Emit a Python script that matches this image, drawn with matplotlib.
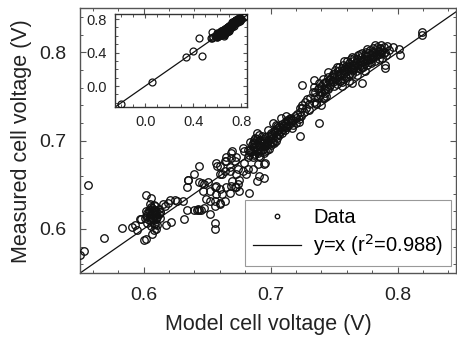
import numpy as np
import matplotlib.pyplot as plt
from matplotlib.ticker import MultipleLocator

plt.rcParams['font.family'] = ['Liberation Sans', 'DejaVu Sans']

# model vs measured cell voltage (V)
# points only seen in the inset (outside main range)
far_model = [-0.20, 0.06, 0.34, 0.40, 0.47, 0.45, 0.55]
far_meas = [-0.21, 0.05, 0.35, 0.42, 0.36, 0.57, 0.57]

# low end, 0.55 - 0.62
low_model = [
    0.556, 0.553, 0.569, 0.583, 0.591, 0.595, 0.600, 0.602, 0.602, 0.606,
    0.607, 0.608, 0.613, 0.617, 0.621, 0.625, 0.631, 0.618, 0.622, 0.632,
    0.634, 0.635, 0.642, 0.644, 0.648, 0.652, 0.656, 0.656, 0.610, 0.609,
    0.598, 0.597, 0.615, 0.619, 0.626, 0.613, 0.610, 0.634, 0.593,
    0.601, 0.603, 0.604, 0.605, 0.606, 0.606, 0.607, 0.607, 0.608, 0.608,
    0.609, 0.609, 0.610, 0.610, 0.611, 0.612, 0.603, 0.605, 0.606, 0.604,
    0.611, 0.612, 0.613, 0.602, 0.607,
    0.602, 0.604, 0.605, 0.606, 0.607, 0.608, 0.609, 0.610, 0.608, 0.606,
]
low_meas = [
    0.650, 0.575, 0.590, 0.601, 0.602, 0.599, 0.587, 0.589, 0.639, 0.635,
    0.594, 0.599, 0.619, 0.626, 0.633, 0.633, 0.632, 0.605, 0.608, 0.611,
    0.648, 0.656, 0.621, 0.622, 0.624, 0.617, 0.607, 0.600, 0.600, 0.606,
    0.611, 0.611, 0.628, 0.630, 0.632, 0.619, 0.613, 0.621, 0.604,
    0.612, 0.618, 0.622, 0.615, 0.609, 0.625, 0.619, 0.613, 0.621, 0.606,
    0.616, 0.626, 0.611, 0.620, 0.614, 0.623, 0.607, 0.628, 0.603, 0.610,
    0.605, 0.617, 0.612, 0.620, 0.624,
    0.615, 0.619, 0.612, 0.621, 0.616, 0.610, 0.622, 0.617, 0.627, 0.617,
]

# middle, 0.64 - 0.73
mid_model = [
    0.644, 0.640, 0.635, 0.644, 0.648, 0.651, 0.647, 0.649, 0.652, 0.656,
    0.660, 0.657, 0.660, 0.665, 0.669, 0.672, 0.674, 0.657, 0.662, 0.668,
    0.656, 0.660, 0.664, 0.657, 0.660, 0.665, 0.668, 0.672, 0.674, 0.669,
    0.640, 0.643, 0.645, 0.646, 0.652, 0.656, 0.658, 0.664, 0.660, 0.670,
    0.669, 0.678, 0.681, 0.682, 0.673, 0.675, 0.670, 0.673, 0.675, 0.695,
    0.690, 0.679, 0.682, 0.686, 0.691, 0.695, 0.689, 0.696, 0.683, 0.665,
    0.662, 0.668, 0.673, 0.664, 0.679, 0.682, 0.678,
    0.683, 0.684, 0.685, 0.686, 0.686, 0.687, 0.688, 0.688, 0.689, 0.690,
    0.690, 0.691, 0.691, 0.692, 0.692, 0.693, 0.694, 0.694, 0.695, 0.695,
    0.696, 0.697, 0.697, 0.698, 0.699, 0.700, 0.701, 0.702, 0.703, 0.704,
    0.705, 0.706, 0.707, 0.708, 0.709, 0.710, 0.711, 0.712, 0.713, 0.714,
    0.715, 0.716, 0.717, 0.718, 0.719, 0.720, 0.721, 0.722, 0.723, 0.724,
    0.725, 0.726, 0.727, 0.728, 0.729, 0.730,
    0.689, 0.687, 0.702, 0.704, 0.708, 0.712, 0.715, 0.723, 0.738, 0.723,
    0.725, 0.730, 0.736, 0.741, 0.743, 0.684, 0.691, 0.698, 0.705, 0.700,
    0.684, 0.686, 0.687, 0.688, 0.689, 0.690, 0.691, 0.692, 0.693, 0.694,
    0.695, 0.696, 0.697, 0.698, 0.699, 0.700, 0.701, 0.702, 0.703, 0.704,
    0.705, 0.706, 0.707, 0.708, 0.709, 0.710, 0.711, 0.712, 0.713, 0.714,
    0.686, 0.688, 0.692, 0.696, 0.700, 0.704, 0.716, 0.718, 0.720, 0.722,
]
mid_meas = [
    0.671, 0.662, 0.656, 0.653, 0.651, 0.653, 0.643, 0.634, 0.632, 0.626,
    0.628, 0.649, 0.645, 0.647, 0.649, 0.647, 0.651, 0.640, 0.640, 0.641,
    0.632, 0.630, 0.632, 0.675, 0.671, 0.681, 0.670, 0.677, 0.668, 0.686,
    0.621, 0.623, 0.622, 0.652, 0.643, 0.647, 0.671, 0.666, 0.662, 0.688,
    0.680, 0.666, 0.662, 0.668, 0.662, 0.656, 0.654, 0.647, 0.643, 0.674,
    0.674, 0.675, 0.681, 0.668, 0.660, 0.658, 0.654, 0.675, 0.641, 0.677,
    0.662, 0.666, 0.681, 0.677, 0.688, 0.690, 0.692,
    0.684, 0.690, 0.695, 0.681, 0.688, 0.699, 0.693, 0.685, 0.702, 0.690,
    0.696, 0.683, 0.700, 0.688, 0.694, 0.705, 0.691, 0.697, 0.686, 0.702,
    0.694, 0.699, 0.689, 0.705, 0.696, 0.702, 0.708, 0.699, 0.711, 0.705,
    0.714, 0.708, 0.716, 0.711, 0.719, 0.713, 0.721, 0.716, 0.723, 0.718,
    0.725, 0.720, 0.714, 0.723, 0.728, 0.720, 0.730, 0.725, 0.733, 0.728,
    0.740, 0.733, 0.744, 0.737, 0.747, 0.735,
    0.709, 0.701, 0.720, 0.718, 0.726, 0.728, 0.726, 0.705, 0.720, 0.737,
    0.737, 0.741, 0.743, 0.748, 0.754, 0.698, 0.706, 0.712, 0.717, 0.709,
    0.687, 0.693, 0.684, 0.697, 0.690, 0.686, 0.695, 0.701, 0.690, 0.700,
    0.694, 0.704, 0.696, 0.701, 0.691, 0.707, 0.698, 0.704, 0.697, 0.710,
    0.703, 0.712, 0.706, 0.715, 0.709, 0.717, 0.712, 0.719, 0.715, 0.722,
    0.697, 0.703, 0.682, 0.688, 0.695, 0.700, 0.724, 0.718, 0.726, 0.721,
]

# upper band, 0.73 - 0.82
high_model = [
    0.731, 0.733, 0.735, 0.737, 0.739, 0.740, 0.742, 0.743, 0.744, 0.746,
    0.747, 0.748, 0.749, 0.750, 0.751, 0.752, 0.753, 0.754, 0.755, 0.756,
    0.757, 0.758, 0.759, 0.760, 0.761, 0.762, 0.763, 0.764, 0.765, 0.766,
    0.767, 0.768, 0.769, 0.770, 0.771, 0.772, 0.773, 0.774, 0.775, 0.776,
    0.777, 0.778, 0.779, 0.780, 0.781, 0.782, 0.783, 0.784, 0.785, 0.786,
    0.787, 0.788, 0.789, 0.790, 0.791, 0.792, 0.793,
    0.745, 0.738, 0.741, 0.758, 0.764, 0.770, 0.776, 0.782, 0.752, 0.734,
    0.736, 0.744, 0.756, 0.762, 0.768, 0.774, 0.725, 0.734, 0.734, 0.755,
    0.740, 0.764, 0.772, 0.789, 0.790, 0.790, 0.796, 0.801, 0.802, 0.819,
    0.819, 0.745, 0.750, 0.757,
    0.738, 0.740, 0.741, 0.743, 0.745, 0.746, 0.748, 0.749, 0.750, 0.751,
    0.753, 0.754, 0.755, 0.756, 0.757, 0.758, 0.759, 0.760, 0.761, 0.762,
    0.763, 0.764, 0.765, 0.766, 0.767, 0.768, 0.769, 0.770, 0.771, 0.772,
    0.773, 0.774, 0.775, 0.776, 0.777, 0.778, 0.779, 0.780, 0.781, 0.782,
    0.783, 0.784, 0.785, 0.786, 0.787, 0.752, 0.758, 0.764, 0.770, 0.776,
    0.744, 0.747, 0.735, 0.737, 0.742, 0.760, 0.766, 0.772, 0.778, 0.788,
]
high_meas = [
    0.748, 0.755, 0.750, 0.758, 0.752, 0.762, 0.757, 0.766, 0.760, 0.769,
    0.763, 0.773, 0.766, 0.776, 0.770, 0.764, 0.779, 0.773, 0.768, 0.782,
    0.776, 0.770, 0.785, 0.779, 0.773, 0.788, 0.781, 0.776, 0.790, 0.784,
    0.779, 0.793, 0.786, 0.781, 0.795, 0.789, 0.783, 0.797, 0.791, 0.786,
    0.799, 0.793, 0.788, 0.801, 0.795, 0.790, 0.803, 0.797, 0.792, 0.805,
    0.799, 0.794, 0.806, 0.801, 0.797, 0.807, 0.803,
    0.778, 0.765, 0.770, 0.790, 0.795, 0.798, 0.804, 0.808, 0.783, 0.744,
    0.742, 0.751, 0.762, 0.768, 0.774, 0.779, 0.763, 0.769, 0.761, 0.768,
    0.740, 0.765, 0.765, 0.799, 0.786, 0.782, 0.806, 0.804, 0.797, 0.823,
    0.820, 0.758, 0.772, 0.780,
    0.760, 0.755, 0.764, 0.758, 0.772, 0.761, 0.768, 0.776, 0.762, 0.780,
    0.770, 0.784, 0.776, 0.766, 0.786, 0.780, 0.772, 0.790, 0.784, 0.776,
    0.792, 0.786, 0.780, 0.794, 0.789, 0.783, 0.797, 0.791, 0.786, 0.799,
    0.793, 0.788, 0.801, 0.796, 0.791, 0.803, 0.798, 0.794, 0.805, 0.800,
    0.796, 0.806, 0.802, 0.798, 0.808, 0.774, 0.777, 0.782, 0.788, 0.793,
    0.766, 0.770, 0.755, 0.748, 0.750, 0.781, 0.786, 0.784, 0.789, 0.803,
]

model_v = far_model + low_model + mid_model + high_model
measured_v = far_meas + low_meas + mid_meas + high_meas
fit_label = 'y=x (r$^2$=0.988)'

spine_col = '#555555'
fig = plt.figure(figsize=(4.57, 3.44), dpi=100)
ax = fig.add_axes([0.175, 0.206, 0.823, 0.770])

ax.plot(model_v, measured_v, 'o', mfc='none', mec='#111111', ms=5.4, mew=0.95,
        label='Data', zorder=3)
ax.plot([0.55, 0.85], [0.55, 0.85], '-', color='#111111', lw=0.9, label=fit_label)
ax.set_xlim(0.55, 0.846)
ax.set_ylim(0.55, 0.85)
ax.xaxis.set_major_locator(MultipleLocator(0.1))
ax.xaxis.set_minor_locator(MultipleLocator(0.02))
ax.yaxis.set_major_locator(MultipleLocator(0.1))
ax.yaxis.set_minor_locator(MultipleLocator(0.02))
ax.tick_params(which='both', direction='in', top=True, right=True, color=spine_col,
               labelsize=14, labelcolor='#222222', pad=10)
ax.tick_params(which='major', length=4, width=0.8)
ax.tick_params(which='minor', length=2.2, width=0.7)
for s in ax.spines.values():
    s.set_color(spine_col)
    s.set_linewidth(1.0)
ax.set_xlabel('Model cell voltage (V)', fontsize=15.5, color='#222222', labelpad=7)
ax.set_ylabel('Measured cell voltage (V)', fontsize=15.5, color='#222222', labelpad=5)

leg = ax.legend(loc='lower right', bbox_to_anchor=(0.987, 0.026), borderaxespad=0,
                fontsize=14.5, fancybox=False, markerscale=0.6, handlelength=2.4,
                handletextpad=0.6, framealpha=1, edgecolor='#999999',
                borderpad=0.4, labelspacing=0.25)
leg.get_frame().set_linewidth(0.8)

ins = fig.add_axes([0.252, 0.689, 0.289, 0.270])
ins.plot(model_v, measured_v, 'o', mfc='none', mec='#111111', ms=5.0, mew=0.9, zorder=3)
ins.plot([-0.25, 0.85], [-0.25, 0.85], '-', color='#111111', lw=0.9)
ins.set_xlim(-0.25, 0.85)
ins.set_ylim(-0.25, 0.86)
ins.xaxis.set_major_locator(MultipleLocator(0.4))
ins.xaxis.set_minor_locator(MultipleLocator(0.1))
ins.yaxis.set_major_locator(MultipleLocator(0.4))
ins.yaxis.set_minor_locator(MultipleLocator(0.1))
ins.tick_params(which='both', direction='in', top=True, right=True, color=spine_col,
                labelsize=10.5, labelcolor='#222222', pad=6)
ins.tick_params(which='major', length=3, width=0.8)
ins.tick_params(which='minor', length=2, width=0.7)
for s in ins.spines.values():
    s.set_color('#333333')
    s.set_linewidth(1.0)

fig.savefig('out.png', dpi=100)
